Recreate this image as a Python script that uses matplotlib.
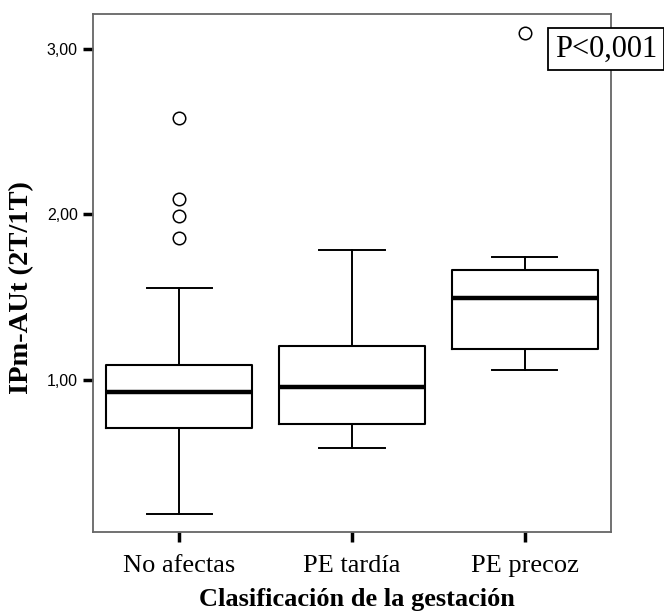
import matplotlib
matplotlib.use("Agg")
import matplotlib.pyplot as plt

categories = ["No afectas", "PE tardía", "PE precoz"]
whislo = [0.19, 0.587, 1.058]
q1 = [0.71, 0.734, 1.19]
med = [0.93, 0.956, 1.497]
q3 = [1.09, 1.207, 1.667]
whishi = [1.556, 1.786, 1.745]
fliers = [[2.58, 2.094, 1.99, 1.86], [], [3.097]]
yticks = [1.0, 2.0, 3.0]
yticklabels = ["1,00", "2,00", "3,00"]

stats = []
for i, c in enumerate(categories):
    stats.append(dict(label=c, whislo=whislo[i], q1=q1[i], med=med[i],
                      q3=q3[i], whishi=whishi[i], fliers=fliers[i]))

fig = plt.figure(figsize=(6.64, 6.13), dpi=100)
ax = fig.add_axes([93/664, 1-531.5/613, (611-93)/664, (531.5-14)/613])

ax.bxp(stats, positions=[1, 2, 3], widths=0.846, capwidths=0.38,
       boxprops=dict(color="black", linewidth=1.5),
       whiskerprops=dict(color="black", linewidth=1.4),
       capprops=dict(color="black", linewidth=1.4),
       medianprops=dict(color="black", linewidth=3.2),
       flierprops=dict(marker="o", markersize=9, markerfacecolor="none",
                       markeredgecolor="black", markeredgewidth=1.1))

ax.set_xlim(0.5, 3.5)
ax.set_ylim(0.085, 3.211)
ax.set_yticks(yticks)
ax.set_yticklabels(yticklabels, fontfamily="Liberation Sans", fontsize=11.5)
ax.set_xticks([1, 2, 3])
ax.set_xticklabels(categories, fontfamily="Liberation Serif", fontsize=19)
ax.tick_params(axis="both", length=7, width=2.5, color="black", pad=4)
ax.tick_params(axis="x", pad=10)

for s in ax.spines.values():
    s.set_color("#666666")
    s.set_linewidth(1.3)

fig.text(357/664, 1-606/613, "Clasificación de la gestación", ha="center", va="baseline",
         fontfamily="Liberation Serif", fontweight="bold", fontsize=19)
fig.text(0.033, 1-288/613, "IPm-AUt (2T/1T)", ha="center", va="center", rotation=90,
         fontfamily="Liberation Serif", fontweight="bold", fontsize=20.5)

fig.text(606/664, 1-49/613, "P<0,001", ha="center", va="center",
         fontfamily="Liberation Serif", fontsize=22,
         bbox=dict(boxstyle="square,pad=0.22", facecolor="white", edgecolor="black", linewidth=1.3))

fig.savefig("out.png", dpi=100)
